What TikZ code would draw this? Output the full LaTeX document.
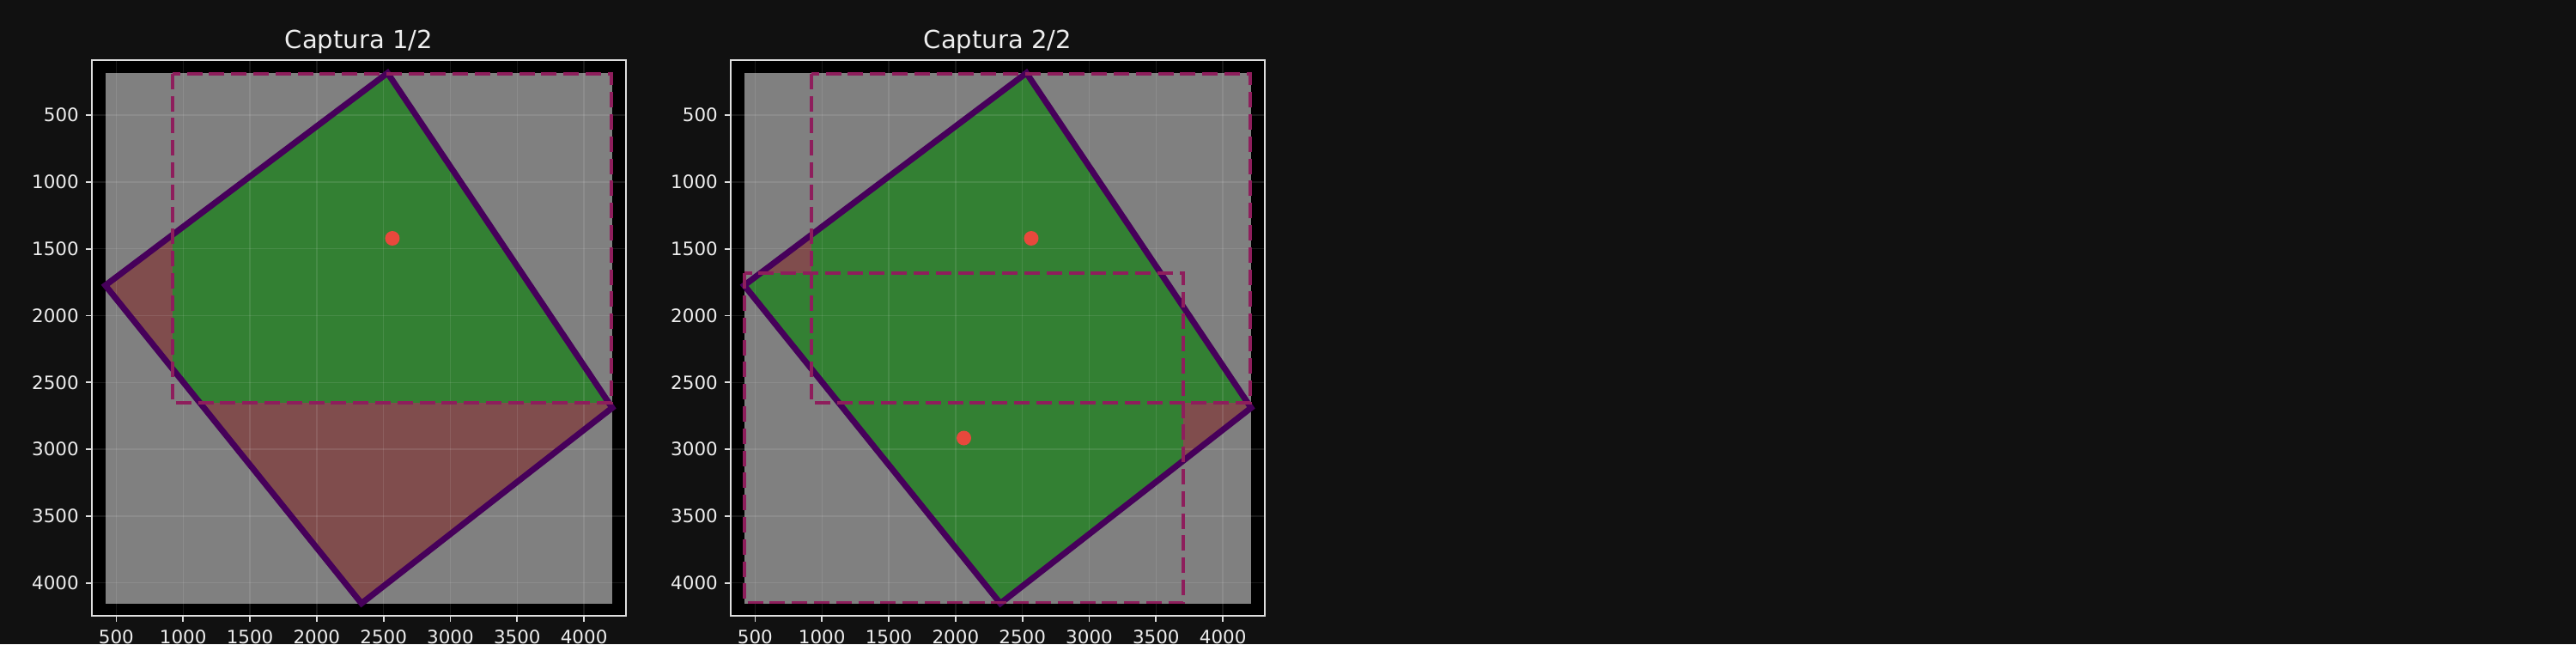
\documentclass[tikz,border=0pt]{standalone}
\usepackage{fontspec}
\setmainfont{DejaVu Sans}
\usetikzlibrary{calc}
\definecolor{figbg}{RGB}{17,17,17}
\definecolor{imggray}{RGB}{128,128,128}
\definecolor{capgreen}{RGB}{51,128,51}
\definecolor{gapred}{RGB}{128,77,77}
\definecolor{quadpurple}{RGB}{70,0,90}
\definecolor{capframe}{RGB}{142,30,92}
\definecolor{dotred}{RGB}{232,72,60}
\definecolor{spine}{RGB}{222,222,222}
\definecolor{axtext}{RGB}{238,238,238}

\begin{document}
\begin{tikzpicture}[
    panel/.style    ={shift={(#1,6.938cm)}, x=0.0015551cm, y=-0.0015551cm},
    spinebox/.style ={draw=spine, line width=0.55pt},
    gridline/.style ={white, opacity=0.1, line width=0.4pt},
    tickmark/.style ={spine, line width=0.5pt},
    xlab/.style     ={anchor=north, inner sep=0pt, text=axtext,
                      font=\fontsize{6.1}{7}\selectfont},
    ylab/.style     ={anchor=east, inner sep=0pt, text=axtext,
                      font=\fontsize{6.1}{7}\selectfont},
    paneltitle/.style={anchor=base, inner sep=0pt, text=axtext,
                      font=\fontsize{8.25}{10}\selectfont},
    quadedge/.style ={draw=quadpurple, line width=2pt, line join=miter},
    capbox/.style   ={draw=capframe, line width=1.05pt,
                      dash pattern=on 0.18cm off 0.078cm},
    centerdot/.style={circle, fill=dotred, minimum size=0.17cm, inner sep=0pt},
  ]

  % ---- figure canvas ----
  \fill[figbg] (0,0) rectangle (30,7.5);
  \useasboundingbox (0,0) rectangle (30,7.5);

  % ================= Captura 1/2 =================
  \begin{scope}[panel=0.576cm]
    \fill[black] (318,87) rectangle (4311,4246);
    \fill[imggray] (418,185) rectangle (4211,4153);

    \coordinate (a-q1) at (2530,185);
    \coordinate (a-q2) at (4211,2690);
    \coordinate (a-q3) at (2335,4153);
    \coordinate (a-q4) at (418,1774);

    % uncovered part, then covered part
    \fill[gapred] (a-q1) -- (a-q2) -- (a-q3) -- (a-q4) -- cycle;
    \begin{scope}
      \clip (a-q1) -- (a-q2) -- (a-q3) -- (a-q4) -- cycle;
      \fill[capgreen] (922,190) rectangle (4206,2653);
    \end{scope}

    % ---- grid ----
    \foreach \g in {500,1000,...,4000} {
      \draw[gridline] (\g,87) -- (\g,4246);
      \draw[gridline] (318,\g) -- (4311,\g);
    }

    \draw[quadedge] (a-q1) -- (a-q2) -- (a-q3) -- (a-q4) -- cycle;
    \draw[capbox] (922,190) rectangle (4206,2653);
    \node[centerdot] (a-c1) at (2566,1422) {};

    % ---- axes ----
    \draw[spinebox] (318,87) rectangle (4311,4246);
    \foreach \g in {500,1000,...,4000} {
      \draw[tickmark] (\g,4246) -- ++(0cm,-0.07cm);
      \draw[tickmark] (318,\g) -- ++(-0.07cm,0cm);
      \node[xlab] (a-x\g) at ([yshift=-0.155cm]\g,4246) {\g};
      \node[ylab] (a-y\g) at ([xshift=-0.146cm]318,\g) {\g};
    }
    \node[paneltitle] (a-title) at ([yshift=0.13cm]2314.5,87) {Captura 1/2};
  \end{scope}

  % ================= Captura 2/2 =================
  \begin{scope}[panel=8.016cm]
    \fill[black] (318,87) rectangle (4311,4246);
    \fill[imggray] (418,185) rectangle (4211,4153);

    \coordinate (b-q1) at (2530,185);
    \coordinate (b-q2) at (4211,2690);
    \coordinate (b-q3) at (2335,4153);
    \coordinate (b-q4) at (418,1774);

    \fill[gapred] (b-q1) -- (b-q2) -- (b-q3) -- (b-q4) -- cycle;
    \begin{scope}
      \clip (b-q1) -- (b-q2) -- (b-q3) -- (b-q4) -- cycle;
      \fill[capgreen] (922,190) rectangle (4206,2653);
      \fill[capgreen] (420,1684) rectangle (3704,4147);
    \end{scope}

    % ---- grid ----
    \foreach \g in {500,1000,...,4000} {
      \draw[gridline] (\g,87) -- (\g,4246);
      \draw[gridline] (318,\g) -- (4311,\g);
    }

    \draw[quadedge] (b-q1) -- (b-q2) -- (b-q3) -- (b-q4) -- cycle;
    \draw[capbox] (922,190) rectangle (4206,2653);
    \draw[capbox] (420,1684) rectangle (3704,4147);
    \node[centerdot] (b-c1) at (2566,1422) {};
    \node[centerdot] (b-c2) at (2062,2916) {};

    % ---- axes ----
    \draw[spinebox] (318,87) rectangle (4311,4246);
    \foreach \g in {500,1000,...,4000} {
      \draw[tickmark] (\g,4246) -- ++(0cm,-0.07cm);
      \draw[tickmark] (318,\g) -- ++(-0.07cm,0cm);
      \node[xlab] (b-x\g) at ([yshift=-0.155cm]\g,4246) {\g};
      \node[ylab] (b-y\g) at ([xshift=-0.146cm]318,\g) {\g};
    }
    \node[paneltitle] (b-title) at ([yshift=0.13cm]2314.5,87) {Captura 2/2};
  \end{scope}

\end{tikzpicture}
\end{document}
